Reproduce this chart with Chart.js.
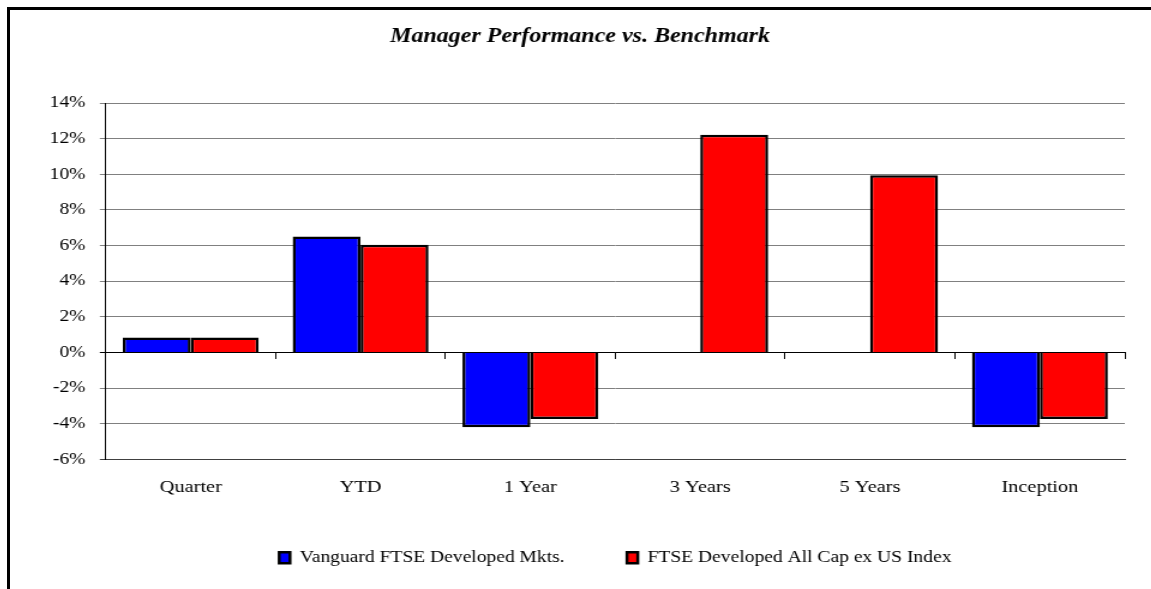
<!DOCTYPE html>
<html>
<head>
<meta charset="utf-8">
<script src="https://cdn.jsdelivr.net/npm/chart.js@4/dist/chart.umd.min.js"></script>
<style>
    body { margin: 0; overflow: hidden; background: #fff; }
    #frame {
        position: absolute; left: 7px; top: 7px; width: 1200px; height: 700px;
        border-top: 3px solid #000; border-left: 3px solid #000;
    }
    #wrap {
        position: absolute; left: 10px; top: 10px;
        transform: scaleX(1.2); transform-origin: 0 0;
    }
</style>
</head>
<body>
<div id="frame"></div>
<div id="wrap"><canvas id="chart" width="951" height="579"></canvas></div>
<script>
const periods = ['Quarter', 'YTD', '1 Year', '3 Years', '5 Years', 'Inception'];
const managerLabel = 'Vanguard FTSE Developed Mkts.';
const benchmarkLabel = 'FTSE Developed All Cap ex US Index';
// returns in %
const managerValues = [0.83, 6.5, -4.2, null, null, -4.2];
const benchmarkValues = [0.84, 6.05, -3.74, 12.22, 9.95, -3.74];
const yTicks = { min: -6, max: 14, step: 2 };

const serif = 'Liberation Serif, Times New Roman, serif';

const gridColor = (ctx) => {
    if (!ctx.tick) return '#808080';
    if (ctx.tick.value === 0) return '#000';
    if (ctx.tick.value === yTicks.min) return '#404040';
    return '#808080';
};

const ctx = document.getElementById('chart');

new Chart(ctx, {
    type: 'bar',
    data: {
        labels: periods,
        datasets: [{
                label: managerLabel,
                data: managerValues,
                backgroundColor: '#0000ff',
                borderColor: '#000',
                borderWidth: 2.5
            },
            {
                label: benchmarkLabel,
                data: benchmarkValues,
                backgroundColor: '#ff0000',
                borderColor: '#000',
                borderWidth: 2.5
            }
        ]
    },
    options: {
        responsive: false,
        animation: false,
        devicePixelRatio: 1,
        layout: { padding: { left: 21, right: 22, top: 0, bottom: 13 } },
        datasets: {
            bar: { categoryPercentage: 0.8, barPercentage: 1.0 }
        },
        plugins: {
            title: {
                display: true,
                text: 'Manager Performance vs. Benchmark',
                color: '#000',
                font: { family: serif, size: 20, weight: 'bold', style: 'italic' },
                padding: { top: 15, bottom: 54 }
            },
            legend: {
                position: 'bottom',
                fullSize: false,
                labels: {
                    color: '#000',
                    font: { family: serif, size: 16.3 },
                    boxWidth: 9,
                    boxHeight: 11,
                    padding: 52
                }
            },
            tooltip: { enabled: false }
        },
        scales: {
            x: {
                grid: { display: false, drawTicks: false },
                border: { color: '#404040' },
                ticks: { color: '#000', font: { family: serif, size: 17 }, padding: 18 },
                // chart.js pads both sides of the labels; keep only the top gap
                afterFit: (scale) => { scale.height = 38.4; }
            },
            xZero: {
                type: 'category',
                position: { y: 0 },
                offset: true,
                ticks: { display: false },
                grid: { offset: true, drawOnChartArea: false, drawTicks: true, tickLength: 6, color: '#000' },
                border: { color: '#000' }
            },
            y: {
                min: yTicks.min,
                max: yTicks.max,
                ticks: {
                    stepSize: yTicks.step,
                    color: '#000',
                    font: { family: serif, size: 16.3 },
                    padding: 12,
                    callback: (v) => v + '%'
                },
                grid: { color: gridColor, tickLength: 5 },
                border: { color: '#000' }
            }
        }
    }
});
</script>
</body>
</html>
